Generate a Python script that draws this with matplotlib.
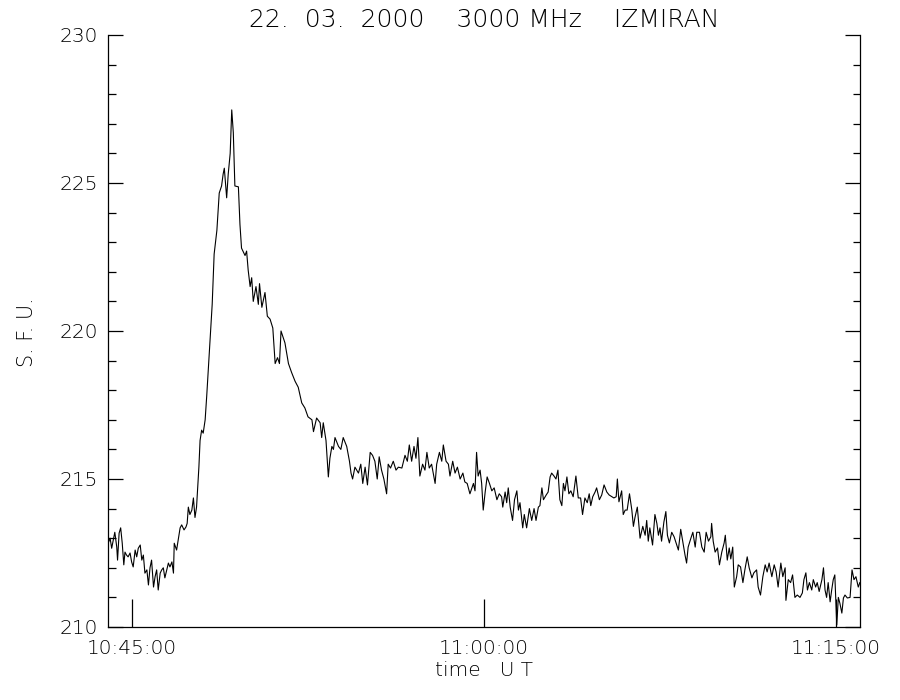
import matplotlib
matplotlib.use("Agg")
import matplotlib.pyplot as plt
from matplotlib.ticker import FixedLocator, MultipleLocator, FuncFormatter

plt.rcParams.update({
    "font.family": "DejaVu Sans",
    "font.weight": "light",
    "axes.titleweight": "light",
    "axes.labelweight": "light",
})

title = "22.  03.  2000    3000 MHz    IZMIRAN"
x_label = "time   U T"
y_label = "S. F. U."

# seconds after 10:45:00 UT
time_s = [
    -61, -56, -52, -48, -44, -39, -37, -33, -29, -25, -21, -18, -14, -10, -5,
    -1, 3, 8, 12, 16, 21, 25, 29, 33, 38, 42, 46, 50, 55, 59,
    63, 67, 72, 76, 80, 84, 89, 93, 97, 102, 106, 108, 114, 118, 123,
    127, 133, 138, 141, 144, 148, 153, 157, 161, 165, 168, 171, 174, 178, 182,
    187, 191, 199, 205, 210, 217, 223, 229, 233, 236, 242, 246, 251, 255, 259,
    263, 272, 276, 280, 289, 293, 297, 302, 306, 310, 317, 323, 326, 332, 340,
    346, 353, 360, 366, 372, 377, 381, 391, 400, 408, 417, 425,
    434, 442, 450, 460, 464, 472, 481, 485, 489, 496, 502, 506, 511, 515, 519,
    528, 534, 540, 549, 556, 560, 564, 570, 579, 585, 590, 596, 602, 609, 615,
    621, 627, 632, 638, 644, 651, 655, 661, 668, 675, 681, 690, 698, 704, 709,
    715, 721, 726, 731, 736, 743, 749, 754, 760, 766, 775, 779, 786, 792, 796,
    803, 809, 813, 820, 826, 832, 839, 846, 851, 857,
    864, 873, 877, 881, 885, 890, 894, 898, 903, 908, 914, 920, 926, 933, 939,
    945, 948, 954, 958, 962, 967, 973, 978, 984, 988, 992, 999, 1003, 1009, 1016,
    1022, 1028, 1033, 1039, 1043, 1048, 1052, 1059, 1064, 1069, 1073, 1079, 1084, 1089, 1094,
    1099, 1103, 1107, 1112, 1117, 1122, 1128, 1135, 1141, 1147, 1152, 1158, 1164, 1169, 1173,
    1178, 1184, 1188, 1195, 1201, 1207, 1214, 1220, 1227, 1232, 1238, 1241, 1245, 1252, 1256,
    1261, 1266, 1272, 1278, 1282, 1286, 1292,
    1299, 1306, 1312, 1316, 1320, 1324, 1331, 1337, 1342, 1346, 1350, 1354, 1360, 1365, 1369,
    1374, 1380, 1386, 1393, 1397, 1403, 1408, 1414, 1418, 1422, 1429, 1434, 1440, 1444, 1451,
    1457, 1463, 1468, 1474, 1480, 1482, 1486, 1491, 1497, 1502, 1508, 1514, 1517, 1522, 1527,
    1531, 1536, 1540, 1546, 1550, 1556, 1562, 1567, 1573, 1578, 1585, 1590, 1597, 1601, 1607,
    1613, 1619, 1624, 1629, 1636, 1642, 1647, 1652, 1659, 1664, 1670, 1672, 1678, 1684, 1689,
    1695, 1701, 1708, 1714, 1718, 1723, 1727, 1732, 1738, 1742, 1748, 1752, 1757, 1764, 1768,
    1772, 1776, 1780, 1785, 1789, 1793, 1797, 1802, 1806, 1810, 1815, 1819, 1823, 1829, 1836,
    1841, 1846, 1851, 1857, 1861,
]

flux_sfu = [
    212.83, 213.0, 212.66, 212.94, 213.2, 212.7, 212.26, 213.17, 213.35, 212.83, 212.1, 212.53, 212.43, 212.37, 212.5,
    212.2, 212.03, 212.6, 212.37, 212.66, 212.77, 212.26, 212.43, 211.82, 211.93, 211.42, 212.0, 212.26, 211.35, 211.7,
    211.93, 211.25, 211.82, 211.93, 212.0, 211.66, 211.93, 212.16, 212.03, 212.2, 211.82, 212.83, 212.6, 212.94, 213.35,
    213.45, 213.28, 213.38, 213.5, 214.05, 213.8, 213.95, 214.36, 213.7, 214.05, 214.73, 215.4, 216.3, 216.65, 216.55,
    217.0, 217.8, 219.6, 220.9, 222.6, 223.4, 224.66, 224.9, 225.3, 225.5, 224.5, 225.3, 226.0, 227.47, 226.7,
    224.9, 224.87, 223.6, 222.8, 222.55, 222.7, 222.06, 221.5, 221.8, 221.0, 221.5, 220.9, 221.6, 220.8, 221.3,
    220.5, 220.4, 220.1, 218.9, 219.1, 218.9, 220.0, 219.6, 218.9, 218.6, 218.3, 218.1,
    217.57, 217.4, 217.1, 217.0, 216.6, 217.06, 216.9, 216.4, 216.9, 216.3, 215.07, 215.7, 216.1, 216.0, 216.4,
    216.1, 216.0, 216.4, 216.1, 215.6, 215.2, 215.0, 215.4, 215.2, 215.5, 214.85, 215.4, 214.8, 215.9, 215.8,
    215.6, 215.0, 215.75, 215.3, 215.0, 214.5, 215.5, 215.37, 215.6, 215.3, 215.4, 215.37, 215.8, 215.6, 216.15,
    215.6, 216.1, 215.7, 216.4, 215.1, 215.5, 215.3, 215.9, 215.37, 215.5, 214.85, 215.5, 215.9, 215.6, 216.15,
    215.6, 215.5, 215.1, 215.6, 215.2, 215.4, 215.0, 215.2, 214.9, 214.85,
    214.5, 214.85, 214.6, 215.9, 215.1, 215.3, 214.85, 213.95, 214.56, 215.07, 214.85, 214.6, 214.7, 214.3, 214.5,
    214.4, 214.05, 214.56, 214.2, 214.7, 214.05, 213.6, 214.3, 214.6, 213.95, 214.2, 213.35, 213.8, 213.35, 214.0,
    213.6, 214.0, 213.6, 214.05, 214.1, 214.7, 214.3, 214.46, 214.56, 215.07, 215.2, 215.1, 215.0, 215.3, 214.3,
    214.1, 214.85, 214.6, 215.07, 214.5, 214.6, 214.4, 215.1, 214.36, 214.36, 213.8, 214.36, 214.2, 214.5, 214.1,
    214.4, 214.56, 214.7, 214.3, 214.46, 214.8, 214.56, 214.46, 214.4, 214.36, 214.4, 215.0, 214.23, 214.6, 213.8,
    213.95, 213.95, 214.5, 213.95, 213.4, 213.7, 214.05,
    213.0, 213.4, 213.1, 213.6, 212.9, 213.35, 212.77, 213.8, 213.5, 213.1, 213.35, 212.9, 213.55, 213.9, 213.1,
    212.84, 213.2, 213.05, 212.77, 212.6, 213.3, 212.9, 212.43, 212.16, 212.7, 213.0, 213.2, 212.7, 213.2, 213.2,
    212.7, 212.53, 213.2, 212.9, 213.05, 213.5, 212.9, 212.53, 212.67, 212.1, 212.53, 212.84, 213.1, 212.26, 212.67,
    212.3, 212.7, 211.35, 211.7, 212.1, 212.03, 211.5, 211.93, 212.37, 212.0, 211.66, 211.83, 211.93, 211.35, 211.08,
    211.7, 212.1, 211.86, 212.16, 211.7, 212.1, 211.86, 211.35, 212.16, 211.7, 212.0, 210.9, 211.6, 211.5, 211.76,
    211.0, 211.08, 211.0, 211.15, 211.6, 211.83, 211.25, 211.5, 211.25, 211.6, 211.35, 211.5, 211.2, 211.6, 212.0,
    211.25, 211.0, 211.5, 210.85, 211.25, 211.6, 211.76, 210.07, 211.0, 210.8, 210.47, 210.98, 211.08, 210.98, 211.0,
    211.93, 211.6, 211.7, 211.35, 211.5,
]

x_ticks = [0, 900, 1800]   # 10:45:00, 11:00:00, 11:15:00


def hms(sec, pos=None):
    total = int(round(10 * 3600 + 45 * 60 + sec))
    return f"{total // 3600:02d}:{total % 3600 // 60:02d}:{total % 60:02d}"


fig = plt.figure(figsize=(9, 7), dpi=100)
ax = fig.add_axes([108 / 900, 73 / 700, 752 / 900, 592 / 700])

ax.plot(time_s, flux_sfu, color="black", linewidth=0.8)

ax.set_xlim(-61.4, 1861.4)
ax.set_ylim(210, 230)

ax.spines["top"].set_visible(False)
for s in ("left", "right", "bottom"):
    ax.spines[s].set_linewidth(0.9)

ax.xaxis.set_major_locator(FixedLocator(x_ticks))
ax.xaxis.set_major_formatter(FuncFormatter(hms))
ax.yaxis.set_major_locator(MultipleLocator(5))
ax.yaxis.set_minor_locator(MultipleLocator(1))

ax.tick_params(axis="x", which="major", direction="in", length=20, width=0.9,
               top=False, pad=9, labelsize=14.5, labelcolor="black")
ax.tick_params(axis="y", which="major", direction="in", length=10.8, width=0.9,
               left=True, right=True, pad=7, labelsize=14.5, labelcolor="black")
ax.tick_params(axis="y", which="minor", direction="in", length=5.4, width=0.9,
               left=True, right=True)

ax.set_title(title, fontsize=18, pad=6)
ax.set_xlabel(x_label, fontsize=14.5, labelpad=2)
ax.set_ylabel(y_label, fontsize=15)
ax.yaxis.label.set_va("center")
ax.yaxis.set_label_coords(-0.108, 0.498)

fig.savefig("out.png", dpi=100)
